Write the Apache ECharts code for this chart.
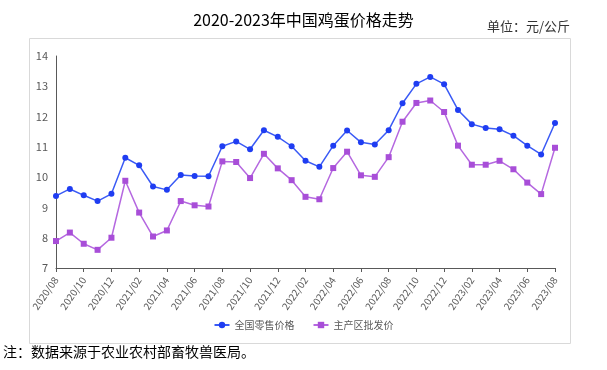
<!DOCTYPE html>
<html><head><meta charset="utf-8">
<script src="https://cdn.jsdelivr.net/npm/echarts@6/dist/echarts.min.js"></script>
<style>html,body{margin:0;padding:0;background:#fff}#c{width:607px;height:370px}</style>
</head><body><div id="c"></div>
<script>
const months = ['2020/08','2020/09','2020/10','2020/11','2020/12','2021/01','2021/02','2021/03','2021/04','2021/05','2021/06','2021/07','2021/08','2021/09','2021/10','2021/11','2021/12','2022/01','2022/02','2022/03','2022/04','2022/05','2022/06','2022/07','2022/08','2022/09','2022/10','2022/11','2022/12','2023/01','2023/02','2023/03','2023/04','2023/05','2023/06','2023/07','2023/08'];
const retail = [9.38,9.61,9.40,9.21,9.45,10.64,10.39,9.69,9.58,10.07,10.04,10.03,11.02,11.18,10.92,11.55,11.33,11.02,10.54,10.34,11.04,11.54,11.15,11.08,11.55,12.44,13.08,13.31,13.07,12.22,11.75,11.62,11.58,11.37,11.04,10.75,11.79];
const wholesale = [7.89,8.17,7.80,7.60,8.00,9.88,8.83,8.04,8.24,9.21,9.07,9.03,10.52,10.50,9.97,10.77,10.29,9.90,9.35,9.27,10.30,10.84,10.06,10.01,10.66,11.83,12.45,12.53,12.15,11.04,10.41,10.41,10.54,10.26,9.82,9.44,10.97];
const seriesNames = ['全国零售价格','主产区批发价'];
const yTicks = {min:7, max:14, interval:1};
const chart = echarts.init(document.getElementById('c'));
const font = '"Noto Sans CJK SC", "Microsoft YaHei", sans-serif';
chart.setOption({
  animation:false,
  textStyle:{fontFamily:font},
  title:{text:'2020-2023年中国鸡蛋价格走势', left:'center', top:7,
    textStyle:{fontSize:16, fontWeight:'normal', color:'#000', fontFamily:font}},
  graphic:[
    {type:'rect', shape:{x:29.5,y:38.5,width:541,height:305}, style:{fill:'none', stroke:'#d9d9d9', lineWidth:1}, z:-1},
    {type:'text', right:37, top:20, style:{text:'单位：元/公斤', fill:'#333', font:'13px '+font}},
    {type:'text', left:3, top:345, style:{text:'注：数据来源于农业农村部畜牧兽医局。', fill:'#000', font:'14px "Noto Sans CJK SC", serif'}}
  ],
  legend:{bottom:35, left:'center', itemWidth:15, itemHeight:8, itemGap:18,
    textStyle:{fontSize:10, color:'#595959', fontFamily:font},
    data:seriesNames},
  grid:{left:56, right:52, top:56, bottom:102, containLabel:false},
  xAxis:{type:'category', data:months, boundaryGap:false,
    axisLine:{lineStyle:{color:'#595959', width:1}},
    axisTick:{show:true, interval:1, length:4, lineStyle:{color:'#595959'}},
    axisLabel:{interval:1, rotate:55, color:'#595959', fontSize:10, margin:10, fontFamily:font}},
  yAxis:{type:'value', min:yTicks.min, max:yTicks.max, interval:yTicks.interval,
    splitLine:{show:false},
    axisLine:{show:true, lineStyle:{color:'#595959', width:1}},
    axisTick:{show:false},
    axisLabel:{color:'#595959', fontSize:11, margin:8, fontFamily:font}},
  series:[
    {name:seriesNames[0], type:'line', data:retail, symbol:'circle', symbolSize:6,
     color:'#1f3df2', lineStyle:{width:1.5, color:'#3a5af5'}, itemStyle:{color:'#1f3df2'}},
    {name:seriesNames[1], type:'line', data:wholesale, symbol:'rect', symbolSize:6,
     color:'#a84ed8', lineStyle:{width:1.5, color:'#b568e0'}, itemStyle:{color:'#a84ed8'}}
  ]
});
</script></body></html>
